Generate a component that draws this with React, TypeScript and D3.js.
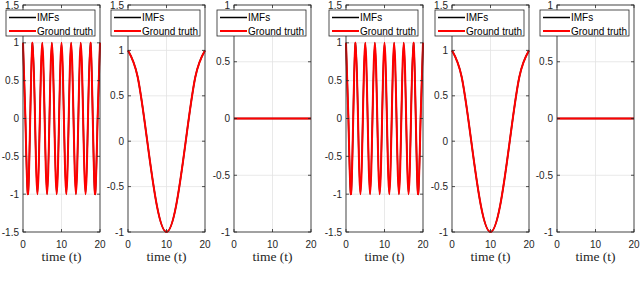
import React from 'react';
import * as d3 from 'd3';

// fast component: cos samples at quarter periods (period 2.5)
const t1 = [0, 0.625, 1.25, 1.875, 2.5, 3.125, 3.75, 4.375, 5, 5.625, 6.25, 6.875, 7.5, 8.125, 8.75, 9.375, 10,
  10.625, 11.25, 11.875, 12.5, 13.125, 13.75, 14.375, 15, 15.625, 16.25, 16.875, 17.5, 18.125, 18.75, 19.375, 20];
const gt1 = [1, 0, -1, 0, 1, 0, -1, 0, 1, 0, -1, 0, 1, 0, -1, 0, 1,
  0, -1, 0, 1, 0, -1, 0, 1, 0, -1, 0, 1, 0, -1, 0, 1];
const imf1 = [1, 0, -1, 0, 1, 0, -1, 0, 1, 0, -1, 0, 1, 0, -1, 0, 1,
  0, -1, 0, 1, 0, -1, 0, 1, 0, -1, 0, 1, 0, -1, 0, 1];

// slow component: one period over 0..20
const t2 = [0, 2.5, 5, 7.5, 10, 12.5, 15, 17.5, 20];
const gt2 = [1, 0.71, 0, -0.71, -1, -0.71, 0, 0.71, 1];
const imf2 = [1, 0.71, 0, -0.71, -1, -0.71, 0, 0.71, 1];

// residual: flat zero
const t3 = [0, 20];
const gt3 = [0, 0];
const imf3 = [0, 0];

const xTicks = [0, 10, 20];
const yTicks1 = [-1.5, -1, -0.5, 0, 0.5, 1, 1.5];
const yTicks2 = [-1, -0.5, 0, 0.5, 1, 1.5];
const yTicks3 = [-1, -0.5, 0, 0.5, 1];
const legendLabels = ['IMFs', 'Ground truth'];
const xLabel = 'time (t)';

const panels = [
  { t: t1, imf: imf1, gt: gt1, yDomain: [-1.5, 1.5], yTicks: yTicks1 },
  { t: t2, imf: imf2, gt: gt2, yDomain: [-1, 1.5], yTicks: yTicks2 },
  { t: t3, imf: imf3, gt: gt3, yDomain: [-1, 1], yTicks: yTicks3 },
  { t: t1, imf: imf1, gt: gt1, yDomain: [-1.5, 1.5], yTicks: yTicks1 },
  { t: t2, imf: imf2, gt: gt2, yDomain: [-1, 1.5], yTicks: yTicks2 },
  { t: t3, imf: imf3, gt: gt3, yDomain: [-1, 1], yTicks: yTicks3 },
];

const lefts = [23, 128, 234, 346, 452, 557];
const W = 77;
const top = 5;
const bottom = 232;
const axisColor = '#262626';
const gridColor = '#e3e3e3';
const sans = '"Liberation Sans", Arial, sans-serif';

const Panel: React.FC<{ idx: number }> = ({ idx }) => {
  const p = panels[idx];
  const x0 = lefts[idx];
  const x = d3.scaleLinear().domain([0, 20]).range([x0, x0 + W]);
  const y = d3.scaleLinear().domain(p.yDomain).range([bottom, top]);
  const line = d3.line<number>()
    .x((_, i) => x(p.t[i]))
    .y(d => y(d))
    .curve(d3.curveNatural);
  const tl = 3;
  const legL = x0 + W - 94;
  const legT = 10;
  return (
    <g>
      {/* grid */}
      {xTicks.map(v => (
        <line key={'gx' + v} x1={x(v)} x2={x(v)} y1={top} y2={bottom} stroke={gridColor} strokeWidth={0.8} />
      ))}
      {p.yTicks.map(v => (
        <line key={'gy' + v} x1={x0} x2={x0 + W} y1={y(v)} y2={y(v)} stroke={gridColor} strokeWidth={0.8} />
      ))}
      {/* series */}
      <path d={line(p.imf) || ''} fill="none" stroke="#000" strokeWidth={1.5} />
      <path d={line(p.gt) || ''} fill="none" stroke="#ff0000" strokeWidth={2} />
      {/* box */}
      <rect x={x0} y={top} width={W} height={bottom - top} fill="none" stroke={axisColor} strokeWidth={0.8} />
      {/* ticks */}
      {xTicks.map(v => (
        <g key={'tx' + v}>
          <line x1={x(v)} x2={x(v)} y1={bottom} y2={bottom - tl} stroke={axisColor} strokeWidth={0.8} />
          <line x1={x(v)} x2={x(v)} y1={top} y2={top + tl} stroke={axisColor} strokeWidth={0.8} />
          <text x={x(v)} y={247.5} textAnchor="middle" fontFamily={sans} fontSize={10} fill={axisColor}>{v}</text>
        </g>
      ))}
      {p.yTicks.map(v => (
        <g key={'ty' + v}>
          <line x1={x0} x2={x0 + tl} y1={y(v)} y2={y(v)} stroke={axisColor} strokeWidth={0.8} />
          <line x1={x0 + W} x2={x0 + W - tl} y1={y(v)} y2={y(v)} stroke={axisColor} strokeWidth={0.8} />
          <text x={x0 - 4} y={y(v) + 3.5} textAnchor="end" fontFamily={sans} fontSize={10} fill={axisColor}>{v}</text>
        </g>
      ))}
      <text x={x0 + W / 2} y={261} textAnchor="middle" fontFamily='"Liberation Serif", serif' fontSize={13.5} fill={axisColor}>{xLabel}</text>
      {/* legend */}
      <rect x={legL} y={legT} width={89} height={26} fill="#fff" stroke={axisColor} strokeWidth={0.8} />
      {legendLabels.map((lab, i) => (
        <g key={lab}>
          <line x1={legL + 3} x2={legL + 30} y1={legT + 7.5 + i * 13.5} y2={legT + 7.5 + i * 13.5}
            stroke={i === 0 ? '#000' : '#ff0000'} strokeWidth={i === 0 ? 1.5 : 2} />
          <text x={legL + 31} y={legT + 11 + i * 13.5} fontFamily={sans} fontSize={10} fill="#000">{lab}</text>
        </g>
      ))}
    </g>
  );
};

export default function App() {
  return (
    <svg width={640} height={281} style={{ position: 'absolute', left: 0, top: 0, background: '#fff' }}>
      <rect width={640} height={281} fill="#fff" />
      {panels.map((_, i) => <Panel key={i} idx={i} />)}
    </svg>
  );
}
